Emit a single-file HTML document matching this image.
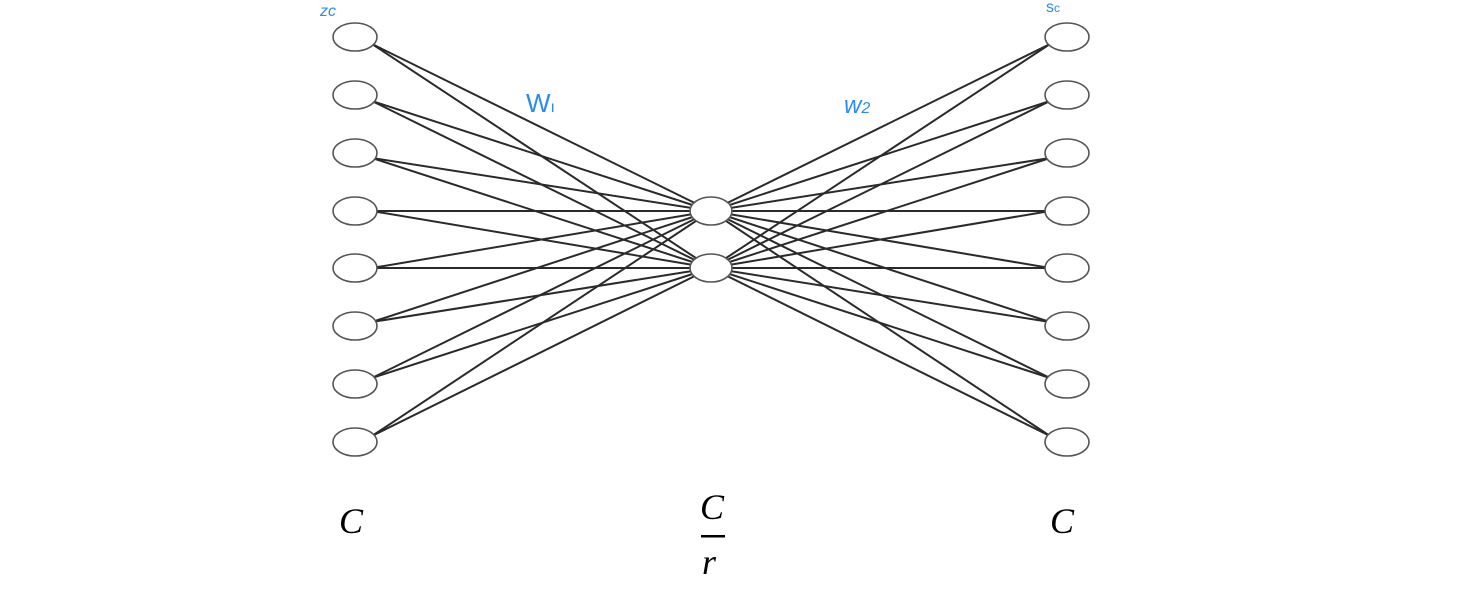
<!DOCTYPE html>
<html><head><meta charset="utf-8"><style>
html,body{margin:0;padding:0;background:#fff;}
svg{display:block;}
</style></head><body>
<svg width="1467" height="596" viewBox="0 0 1467 596" xmlns="http://www.w3.org/2000/svg">
<g stroke="#2a2a2a" stroke-width="2">
<line x1="372" y1="44" x2="711" y2="211"/><line x1="372" y1="44" x2="711" y2="268"/>
<line x1="372" y1="101" x2="711" y2="211"/><line x1="372" y1="101" x2="711" y2="268"/>
<line x1="372" y1="158" x2="711" y2="211"/><line x1="372" y1="158" x2="711" y2="268"/>
<line x1="372" y1="211" x2="711" y2="211"/><line x1="372" y1="211" x2="711" y2="268"/>
<line x1="372" y1="268" x2="711" y2="211"/><line x1="372" y1="268" x2="711" y2="268"/>
<line x1="372" y1="322" x2="711" y2="211"/><line x1="372" y1="322" x2="711" y2="268"/>
<line x1="372" y1="378" x2="711" y2="211"/><line x1="372" y1="378" x2="711" y2="268"/>
<line x1="372" y1="436" x2="711" y2="211"/><line x1="372" y1="436" x2="711" y2="268"/>
<line x1="1050" y1="44" x2="711" y2="211"/><line x1="1050" y1="44" x2="711" y2="268"/>
<line x1="1050" y1="101" x2="711" y2="211"/><line x1="1050" y1="101" x2="711" y2="268"/>
<line x1="1050" y1="158" x2="711" y2="211"/><line x1="1050" y1="158" x2="711" y2="268"/>
<line x1="1050" y1="211" x2="711" y2="211"/><line x1="1050" y1="211" x2="711" y2="268"/>
<line x1="1050" y1="268" x2="711" y2="211"/><line x1="1050" y1="268" x2="711" y2="268"/>
<line x1="1050" y1="322" x2="711" y2="211"/><line x1="1050" y1="322" x2="711" y2="268"/>
<line x1="1050" y1="378" x2="711" y2="211"/><line x1="1050" y1="378" x2="711" y2="268"/>
<line x1="1050" y1="436" x2="711" y2="211"/><line x1="1050" y1="436" x2="711" y2="268"/>
</g>
<g fill="#fff" stroke="#555" stroke-width="1.6">
<ellipse cx="355" cy="37" rx="22" ry="14"/><ellipse cx="355" cy="95" rx="22" ry="14"/>
<ellipse cx="355" cy="153" rx="22" ry="14"/><ellipse cx="355" cy="211" rx="22" ry="14"/>
<ellipse cx="355" cy="268" rx="22" ry="14"/><ellipse cx="355" cy="326" rx="22" ry="14"/>
<ellipse cx="355" cy="384" rx="22" ry="14"/><ellipse cx="355" cy="442" rx="22" ry="14"/>
<ellipse cx="1067" cy="37" rx="22" ry="14"/><ellipse cx="1067" cy="95" rx="22" ry="14"/>
<ellipse cx="1067" cy="153" rx="22" ry="14"/><ellipse cx="1067" cy="211" rx="22" ry="14"/>
<ellipse cx="1067" cy="268" rx="22" ry="14"/><ellipse cx="1067" cy="326" rx="22" ry="14"/>
<ellipse cx="1067" cy="384" rx="22" ry="14"/><ellipse cx="1067" cy="442" rx="22" ry="14"/>
<ellipse cx="711" cy="211" rx="21" ry="14"/><ellipse cx="711" cy="268" rx="21" ry="14"/>
</g>
<g fill="#2b8cf0" font-family="Liberation Sans, sans-serif">
<text x="320" y="16" font-size="16" font-style="italic">zc</text>
<text x="526" y="112" font-size="26">W<tspan font-size="16">ı</tspan></text>
<text x="844" y="113" font-size="24" font-style="italic">w<tspan font-size="16">2</tspan></text>
<text x="1046" y="12" font-size="16">s<tspan font-size="12">c</tspan></text>
</g>
<g fill="#000" font-family="Liberation Serif, serif" font-style="italic" font-size="36">
<text x="339" y="533">C</text>
<text x="1050" y="533">C</text>
<text x="700" y="519">C</text>
<text x="702" y="574">r</text>
</g>
<rect x="701" y="535" width="24" height="2.5" fill="#000"/>
</svg>
</body></html>
